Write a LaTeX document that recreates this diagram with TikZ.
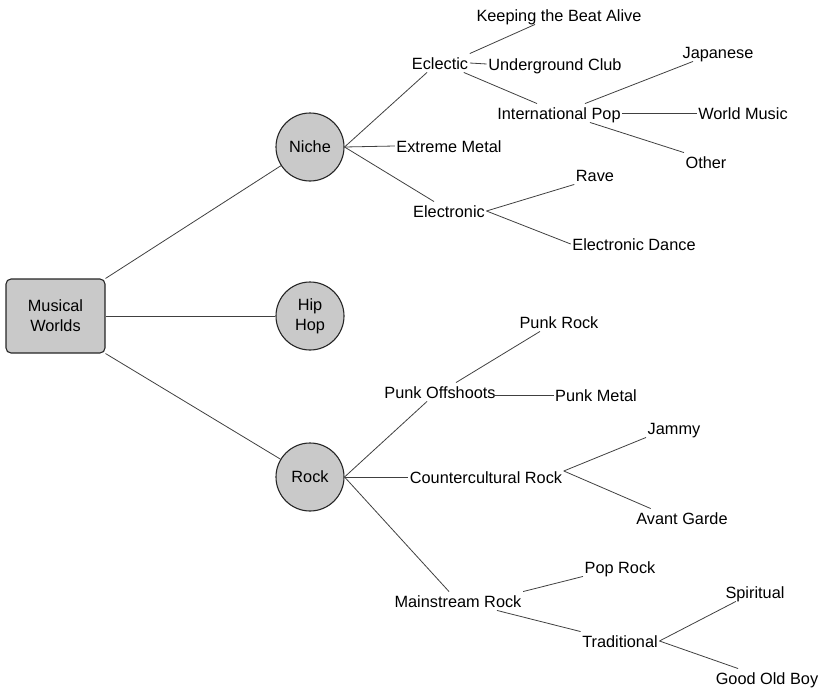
\documentclass[tikz,border=0pt]{standalone}
\usepackage{fontspec}
\setmainfont{Liberation Sans}
\usepackage{xcolor}
\usepackage{tikz}
\usetikzlibrary{positioning}

\begin{document}
\begin{tikzpicture}[x=1pt, y=-1pt,
    font=\fontsize{16.3}{20}\selectfont,
    rootbox/.style={rectangle, rounded corners=5pt, draw=black!85, line width=1.1pt,
        fill=black!21, minimum width=99pt, minimum height=74pt, align=center},
    topic/.style={circle, draw=black!85, line width=1.1pt, fill=black!21,
        minimum size=68pt, inner sep=0pt, align=center},
    leaf/.style={inner sep=1.5pt, text height=14pt, text depth=1.5pt},
    branch/.style={draw=black!75, line width=0.8pt}]
    \useasboundingbox (0,0) rectangle (823,688);

    % Root and main topics
    \node[rootbox] (worlds) at (55.5,316) {Musical\\Worlds};
    \node[topic] (niche) at (310,147) {Niche};
    \node[topic] (hiphop) at (310,316) {Hip\\Hop};
    \node[topic] (rock) at (310,477) {Rock};

    % Niche branch
    \node[leaf] (eclectic) at (440,63) {Eclectic};
    \node[leaf] (extreme) at (449,146) {Extreme Metal};
    \node[leaf] (electronic) at (449,211) {Electronic};
    \node[leaf] (beat) at (559,15) {Keeping the Beat Alive};
    \node[leaf] (underground) at (555,64) {Underground Club};
    \node[leaf] (intpop) at (559,113) {International Pop};
    \node[leaf] (japanese) at (718,52) {Japanese};
    \node[leaf] (world) at (743,113) {World Music};
    \node[leaf] (other) at (706,162) {Other};
    \node[leaf] (rave) at (595,175) {Rave};
    \node[leaf] (dance) at (634,244) {Electronic Dance};

    % Rock branch
    \node[leaf] (punkoff) at (440,392) {Punk Offshoots};
    \node[leaf] (counter) at (486,477) {Countercultural Rock};
    \node[leaf] (mainstream) at (458,601) {Mainstream Rock};
    \node[leaf] (punkrock) at (559,322) {Punk Rock};
    \node[leaf] (punkmetal) at (596,395) {Punk Metal};
    \node[leaf] (jammy) at (674,428) {Jammy};
    \node[leaf] (avant) at (682,518) {Avant Garde};
    \node[leaf] (poprock) at (620,567) {Pop Rock};
    \node[leaf] (traditional) at (620,641) {Traditional};
    \node[leaf] (spiritual) at (755,592) {Spiritual};
    \node[leaf] (goodold) at (767,678) {Good Old Boy};

    % Connectors
    \draw[branch] (worlds.north east) -- (niche);
    \draw[branch] (worlds.east) -- (hiphop.west);
    \draw[branch] (worlds.south east) -- (rock);

    \draw[branch] (niche.east) -- ([xshift=-13pt]eclectic.south);
    \draw[branch] (niche.east) -- (extreme.west);
    \draw[branch] (niche.east) -- ([xshift=-15pt]electronic.north);
    \draw[branch] (eclectic.north east) -- ([xshift=-24pt]beat.south);
    \draw[branch] (eclectic.east) -- (underground.west);
    \draw[branch] ([xshift=-6pt]eclectic.south east) -- ([xshift=-22pt]intpop.north);
    \draw[branch] ([xshift=26pt]intpop.north) -- ([xshift=-25pt]japanese.south);
    \draw[branch] (intpop.east) -- (world.west);
    \draw[branch] ([xshift=31pt]intpop.south) -- (other.north west);
    \draw[branch] (electronic.east) -- (rave.south west);
    \draw[branch] (electronic.east) -- (dance.west);

    \draw[branch] (rock.east) -- ([xshift=-13pt]punkoff.south);
    \draw[branch] (rock.east) -- (counter.west);
    \draw[branch] (rock.east) -- ([xshift=-9pt]mainstream.north);
    \draw[branch] ([xshift=16pt]punkoff.north) -- ([xshift=-19pt]punkrock.south);
    \draw[branch] ([xshift=-3pt,yshift=-3pt]punkoff.east) -- (punkmetal.west);
    \draw[branch] ([yshift=6pt]counter.east) -- (jammy.south west);
    \draw[branch] ([yshift=6pt]counter.east) -- ([xshift=16pt]avant.north west);
    \draw[branch] (mainstream.north east) -- (poprock.south west);
    \draw[branch] ([xshift=39pt]mainstream.south) -- (traditional.north west);
    \draw[branch] (traditional.east) -- ([xshift=12pt]spiritual.south west);
    \draw[branch] (traditional.east) -- ([xshift=24pt]goodold.north west);
\end{tikzpicture}
\end{document}
